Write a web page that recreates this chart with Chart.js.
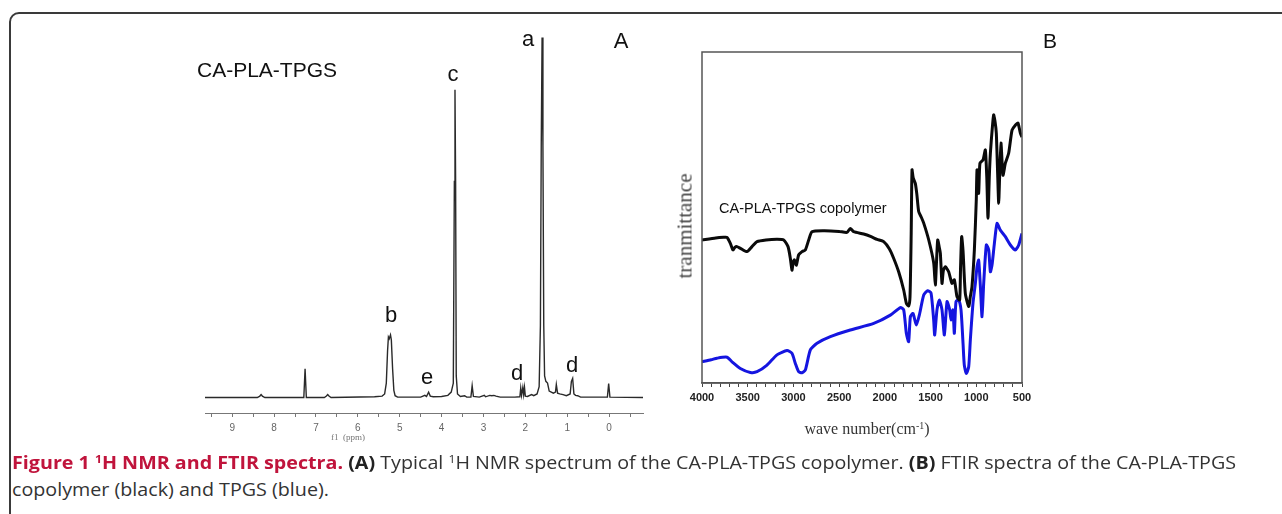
<!DOCTYPE html>
<html>
<head>
<meta charset="utf-8">
<script src="https://cdn.jsdelivr.net/npm/chart.js@4.4.1/dist/chart.umd.min.js"></script>
<style>
  body { margin: 0; width: 1282px; height: 514px; overflow: hidden; background: #fff; position: relative; font-family: "Liberation Sans", Arial, sans-serif; }
  .frame { position: absolute; left: 9px; top: 12px; width: 1300px; height: 530px; border: 2px solid #3a3a3a; border-radius: 10px; }
  .lbl { position: absolute; line-height: 1; white-space: nowrap; color: #111; }
  .caption { position: absolute; left: 12px; font-family: "Open Sans", "Noto Sans", sans-serif; font-size: 18px; color: #333; white-space: nowrap; transform-origin: 0 0; line-height: 1; }
  .caption b.red { color: #c0143c; }
  .caption b { color: #222; }
  sup { font-size: 0.62em; vertical-align: 0.55em; line-height: 0; }
</style>
</head>
<body>
<div class="frame"></div>

<div style="position:absolute;left:0;top:0;width:660px;height:453px"><canvas id="nmr" width="660" height="453"></canvas></div>
<div style="position:absolute;left:660px;top:0;width:400px;height:450px"><canvas id="ftir" width="400" height="450"></canvas></div>

<div class="caption" id="cap1" style="top:453px"><b class="red">Figure 1 <sup>1</sup>H NMR and FTIR spectra.</b> <b>(A)</b> Typical <sup>1</sup>H NMR spectrum of the CA-PLA-TPGS copolymer. <b>(B)</b> FTIR spectra of the CA-PLA-TPGS</div>
<div class="caption" id="cap2" style="top:480px">copolymer (black) and TPGS (blue).</div>

<script>
// 1H NMR spectrum, chemical shift (ppm) vs relative intensity
var nmrPpm = [9.65, 8.40, 8.34, 8.31, 8.28, 8.22, 7.29, 7.26, 7.23, 6.80, 6.75, 6.72, 6.69, 6.64,
  5.60, 5.42, 5.36, 5.32, 5.29, 5.27, 5.25, 5.22, 5.20, 5.17, 5.14, 5.11, 5.05, 4.50,
  4.40, 4.36, 4.31, 4.27, 4.20, 4.00, 3.85, 3.77, 3.72, 3.695, 3.68, 3.665, 3.65, 3.62, 3.55, 3.45, 3.40,
  3.30, 3.27, 3.24, 3.10, 2.98, 2.95, 2.85, 2.80, 2.75, 2.70, 2.60, 2.25,
  2.13, 2.11, 2.09, 2.06, 2.04, 2.02, 2.00, 1.95, 1.85, 1.80, 1.72, 1.67, 1.64, 1.62, 1.60, 1.58, 1.56, 1.54,
  1.51, 1.47, 1.43, 1.38, 1.33, 1.28, 1.26, 1.23, 1.18, 1.10, 1.02, 0.93, 0.90, 0.87, 0.84, 0.80, 0.75, 0.68,
  0.04, 0.01, -0.02, -0.81];
var nmrIntensity = [0, 0, 0.4, 0.8, 0.4, 0, 0, 8.0, 0, 0, 0.4, 0.8, 0.4, 0,
  0.2, 0.4, 1.0, 4, 13, 16.8, 16.3, 17.4, 16, 8, 2, 0.5, 0.1, 0.1,
  0.6, 0.3, 1.5, 0.4, 0.2, 0.3, 0.6, 1.5, 4, 60, 85.5, 60, 6, 1.0, 0.3, 0.5, 0.1,
  0.1, 3.3, 0.3, 0.1, 0.6, 0.2, 0.6, 0.5, 0.6, 0.4, 0.1, 0.1,
  0.2, 2.6, 0.6, 2.8, 0.8, 2.8, 0.4, 0.3, 0.8, 0.5, 1.0, 3, 20, 70, 100, 70, 20, 6,
  4.5, 4.0, 1.8, 1.5, 1.2, 1.5, 3.6, 1.2, 1.0, 0.8, 0.5, 1.0, 4.5, 5.3, 1.0, 0.6, 0.5, 0.1,
  0.1, 3.9, 0.1, 0];
var nmrTicks = [9.5, 9, 8.5, 8, 7.5, 7, 6.5, 6, 5.5, 5, 4.5, 4, 3.5, 3, 2.5, 2, 1.5, 1, 0.5, 0, -0.5];

// FTIR spectra, wave number (cm-1) vs transmittance (arbitrary)
var copolymerWave = [4000, 3850, 3763, 3727, 3690, 3661, 3640, 3617, 3581, 3508, 3453, 3398, 3300, 3180, 3107, 3059,
  3034, 3016, 3003, 2990, 2968, 2943, 2906, 2870, 2833, 2797, 2669, 2500, 2414, 2378, 2341, 2232, 2150, 2086, 2013,
  1950, 1904, 1849, 1794, 1765, 1740, 1725, 1712, 1703, 1690, 1667, 1650, 1630, 1600, 1575, 1520, 1466, 1448, 1436,
  1422, 1405, 1393, 1375, 1360, 1338, 1302, 1266, 1240, 1211, 1182, 1172, 1160, 1145, 1120, 1083, 1065, 1047, 1021,
  1000, 992, 974, 960, 926, 901, 885, 872, 858, 846, 825, 810, 795, 781, 765, 755, 745, 730, 708, 682, 646, 609,
  573, 544, 518, 500];
var copolymerT = [43.2, 43.8, 44.0, 44.0, 42.2, 40.2, 41.0, 41.2, 40.7, 39.7, 41.2, 42.7, 43.2, 43.4, 43.2, 41.2,
  37.7, 34.1, 36.5, 37.2, 35.6, 38.7, 39.7, 40.2, 43.2, 45.7, 46.0, 45.8, 45.5, 46.7, 45.7, 45.0, 44.2, 43.4, 42.7,
  40.5, 37.7, 33.6, 28.1, 24.1, 23.3, 26, 45, 64.4, 62, 60.3, 57, 51.8, 50, 48.3, 43.2, 36.3, 29.6, 36,
  43.2, 41, 39.2, 30.1, 34, 35.1, 33.6, 30.1, 31.2, 26.1, 25.1, 35, 44.2, 40, 27.1, 23.1, 26.1, 29.1, 40.2,
  55.3, 64.4, 57.3, 66.4, 67.4, 70.4, 62, 49.8, 62, 69.4, 77, 81.0, 79, 75.5, 62, 54.3, 62, 72.5, 62.8, 66.4, 69.4, 76.4,
  77.9, 78.5, 75.5, 74.3];
var tpgsWave = [4000, 3900, 3836, 3727, 3672, 3581, 3471, 3398, 3289, 3180, 3070, 3016, 2979, 2943, 2906, 2870,
  2815, 2742, 2596, 2378, 2122, 1940, 1831, 1794, 1765, 1740, 1721, 1692, 1656, 1619, 1575, 1532, 1495, 1466, 1455,
  1430, 1404, 1375, 1349, 1320, 1291, 1276, 1255, 1240, 1222, 1193, 1167, 1145, 1131, 1109, 1083, 1065, 1036, 1010,
  992, 974, 955, 937, 919, 890, 864, 846, 828, 802, 773, 737, 682, 627, 573, 536, 500];
var tpgsT = [6.4, 7.0, 7.5, 7.8, 6.4, 4.4, 3.2, 3.4, 5.4, 8.5, 9.8, 9.0, 5.9, 3.4, 3.1, 3.9,
  10.0, 12.0, 14.0, 16.0, 18.0, 20.5, 22.8, 22.1, 15.0, 12.5, 20.0, 21.0, 17.5, 21.0, 26.6, 27.9, 27.2, 19.0, 14.5,
  22.1, 25.1, 22.1, 14.5, 24.6, 22.1, 19.0, 22.1, 15.0, 24.6, 25.1, 22.1, 12.0, 5.4, 2.9, 4.9, 13.0, 24.1, 30.1,
  35.1, 37.1, 29.1, 20.0, 30.1, 41.7, 40.2, 33.6, 35.6, 42.2, 48.2, 46.2, 44.2, 41.7, 40.2, 41.7, 45.2];
var ftirTicks = [4000, 3900, 3800, 3700, 3600, 3500, 3400, 3300, 3200, 3100, 3000, 2900, 2800, 2700, 2600, 2500,
  2400, 2300, 2200, 2100, 2000, 1900, 1800, 1700, 1600, 1500, 1400, 1300, 1200, 1100, 1000, 900, 800, 700, 600, 500];

function toXY(xs, ys) {
  return xs.map(function(x, i) { return { x: x, y: ys[i] }; });
}

// draws a closed box round the plot area
var framePlugin = {
  id: 'frame',
  afterDraw: function(chart, args, opts) {
    if (!opts.show) return;
    var a = chart.chartArea, ctx = chart.ctx;
    ctx.save();
    ctx.strokeStyle = '#555';
    ctx.lineWidth = 1.5;
    ctx.strokeRect(a.left, a.top, a.right - a.left, a.bottom - a.top);
    ctx.restore();
  }
};

new Chart(document.getElementById('nmr').getContext('2d'), {
  type: 'line',
  data: {
    datasets: [{
      data: toXY(nmrPpm, nmrIntensity),
      borderColor: '#2a2a2a',
      borderWidth: 1.4,
      pointRadius: 0,
      tension: 0
    }]
  },
  options: {
    responsive: false,
    animation: false,
    layout: { padding: { left: 205, right: 17, top: 22, bottom: 0 } },
    plugins: { legend: { display: false }, tooltip: { enabled: false }, frame: { show: false } },
    scales: {
      x: {
        type: 'linear', reverse: true, min: -0.81, max: 9.65,
        afterBuildTicks: function(s) { s.ticks = nmrTicks.map(function(v) { return { value: v }; }); },
        afterFit: function(s) { s.height = 40; },
        ticks: {
          autoSkip: false, maxRotation: 0, padding: 5, color: '#666',
          font: { size: 10, family: 'Liberation Sans' },
          callback: function(v) { return Number.isInteger(v) ? v : ''; }
        },
        grid: { drawOnChartArea: false, tickLength: 4, color: '#777' },
        border: { color: '#777', width: 1 }
      },
      y: { display: false, min: -4.3, max: 104.3 }
    }
  },
  plugins: [framePlugin]
});

new Chart(document.getElementById('ftir').getContext('2d'), {
  type: 'line',
  data: {
    datasets: [{
      data: toXY(copolymerWave, copolymerT),
      borderColor: '#0a0a0a',
      borderWidth: 3,
      pointRadius: 0,
      tension: 0.2
    }, {
      data: toXY(tpgsWave, tpgsT),
      borderColor: '#1515e0',
      borderWidth: 3,
      pointRadius: 0,
      tension: 0.2
    }]
  },
  options: {
    responsive: false,
    animation: false,
    layout: { padding: { left: 42, right: 38, top: 52, bottom: 0 } },
    plugins: { legend: { display: false }, tooltip: { enabled: false }, frame: { show: true } },
    scales: {
      x: {
        type: 'linear', reverse: true, min: 500, max: 4000,
        afterBuildTicks: function(s) { s.ticks = ftirTicks.map(function(v) { return { value: v }; }); },
        afterFit: function(s) { s.height = 67; },
        ticks: {
          autoSkip: false, maxRotation: 0, padding: 4, color: '#222',
          font: { size: 11, weight: 'bold', family: 'Liberation Sans' },
          callback: function(v) { return v % 500 === 0 ? v : ''; }
        },
        grid: { drawOnChartArea: false, tickLength: 4, color: '#444' },
        border: { color: '#555', width: 1.5 }
      },
      y: { display: false, min: 0, max: 100 }
    }
  },
  plugins: [framePlugin]
});

// text labels; y is the baseline
function label(text, x, base, size, opt) {
  opt = opt || {};
  var d = document.createElement('div');
  d.className = 'lbl';
  d.innerHTML = text;
  var fam = opt.serif ? '"Liberation Serif", "Times New Roman", serif' : '"Liberation Sans", Arial, sans-serif';
  var asc = opt.serif ? 0.8375 : 0.8465;
  d.style.fontFamily = fam;
  d.style.fontSize = size + 'px';
  d.style.left = x + 'px';
  d.style.top = (base - size * asc) + 'px';
  if (opt.color) d.style.color = opt.color;
  if (opt.center) d.style.transform = 'translateX(-50%)';
  document.body.appendChild(d);
  return d;
}

label('CA-PLA-TPGS', 197, 77, 21);
label('a', 528, 47, 22, { center: true });
label('A', 621, 49, 22, { center: true });
label('c', 453, 82, 22, { center: true });
label('b', 391, 323, 22, { center: true });
label('e', 427, 385, 22, { center: true });
label('d', 517, 381, 22, { center: true });
label('d', 572, 373, 22, { center: true });
label('f1&nbsp; (ppm)', 331, 441, 9, { serif: true, color: '#777' });

label('B', 1050, 48, 21, { center: true });
label('CA-PLA-TPGS copolymer', 719, 213, 14.5);
label('wave number(cm<sup>-1</sup>)', 867, 434, 16, { serif: true, center: true, color: '#333' });
var yt = label('tranmittance', 685, 226, 21, { serif: true, color: '#444' });
yt.style.top = '226px';
yt.style.transform = 'translate(-50%, -50%) rotate(-90deg)';

// fit the caption to the width of the original line
var c1 = document.getElementById('cap1'), c2 = document.getElementById('cap2');
var k = 1224 / c1.getBoundingClientRect().width;
c1.style.transform = 'scaleX(' + k + ')';
c2.style.transform = 'scaleX(' + k + ')';
</script>
</body>
</html>
